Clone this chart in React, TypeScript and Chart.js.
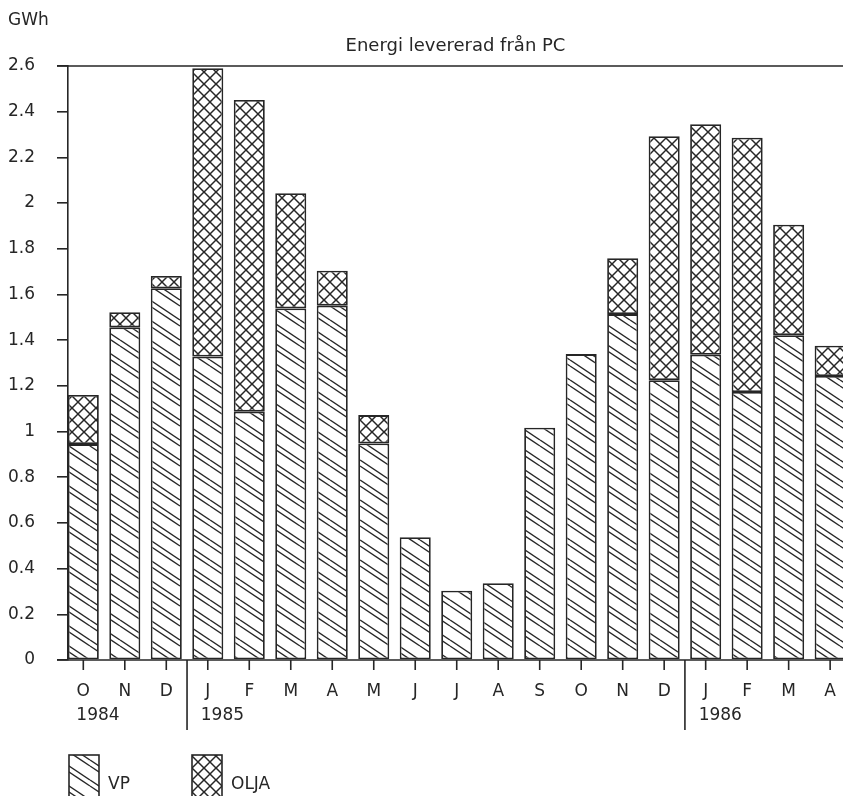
import React, { useEffect, useRef } from 'react';
import { Chart, registerables } from 'chart.js';

Chart.register(...registerables);

// ---- data ----
const months = ['O', 'N', 'D', 'J', 'F', 'M', 'A', 'M', 'J', 'J', 'A', 'S', 'O', 'N', 'D', 'J', 'F', 'M', 'A'];
const yearLabels = ['1984', '1985', '1986'];
const yearStartIndex = [0, 3, 15];
const yearBreaks = [2.5, 14.5];
const vpValues = [0.945, 1.456, 1.627, 1.328, 1.087, 1.539, 1.551, 0.948, 0.537, 0.303, 0.336, 1.017, 1.339, 1.514, 1.225, 1.336, 1.173, 1.422, 1.243];
const oljaValues = [0.215, 0.066, 0.054, 1.262, 1.364, 0.504, 0.153, 0.124, 0, 0, 0, 0, 0, 0.245, 1.068, 1.009, 1.113, 0.483, 0.133];
const seriesNames = ['VP', 'OLJA'];
const yMin = 0;
const yMax = 2.6;
const yStep = 0.2;
const unitLabel = 'GWh';
const titleText = 'Energi levererad från PC';

const INK = '#262626';
const FONT = '"DejaVu Sans", "Noto Sans", sans-serif';

function makeHatch(): CanvasPattern | string {
  const w = 30, h = 20;
  const c = document.createElement('canvas');
  c.width = w; c.height = h;
  const g = c.getContext('2d');
  if (!g) return '#fff';
  g.fillStyle = '#fff';
  g.fillRect(0, 0, w, h);
  g.strokeStyle = INK;
  g.lineWidth = 1.4;
  for (const o of [-h, 0, h]) {
    for (const d of [0, 6]) {
      g.beginPath();
      g.moveTo(0, o + d);
      g.lineTo(w, o + d + h);
      g.stroke();
    }
  }
  const p = g.createPattern(c, 'repeat');
  return p || '#fff';
}

function makeCross(): CanvasPattern | string {
  const s = 12;
  const c = document.createElement('canvas');
  c.width = s; c.height = s;
  const g = c.getContext('2d');
  if (!g) return '#fff';
  g.fillStyle = '#fff';
  g.fillRect(0, 0, s, s);
  g.strokeStyle = INK;
  g.lineWidth = 1.5;
  for (const o of [-s, 0, s]) {
    g.beginPath();
    g.moveTo(0, o);
    g.lineTo(s, o + s);
    g.stroke();
    g.beginPath();
    g.moveTo(0, o + s);
    g.lineTo(s, o);
    g.stroke();
  }
  const p = g.createPattern(c, 'repeat');
  return p || '#fff';
}

export default function App() {
  const ref = useRef<HTMLCanvasElement>(null);

  useEffect(() => {
    document.body.style.margin = '0';
    const canvas = ref.current;
    if (!canvas) return;
    const vpPat = makeHatch();
    const oljaPat = makeCross();

    const decor = {
      id: 'decor',
      afterDraw(chart: any) {
        const ctx = chart.ctx as CanvasRenderingContext2D;
        const xs = chart.scales.x;
        const ys = chart.scales.y;
        const area = chart.chartArea;
        const y0 = ys.getPixelForValue(yMin);
        const yTop = ys.getPixelForValue(yMax);
        ctx.save();
        ctx.strokeStyle = INK;
        ctx.lineWidth = 1.6;
        // top and bottom frame lines
        ctx.beginPath();
        ctx.moveTo(57, yTop);
        ctx.lineTo(chart.width, yTop);
        ctx.moveTo(57, y0);
        ctx.lineTo(chart.width, y0);
        ctx.stroke();
        // x ticks
        ctx.beginPath();
        months.forEach((_, i) => {
          const x = xs.getPixelForValue(i);
          ctx.moveTo(x, y0);
          ctx.lineTo(x, y0 + 10);
        });
        ctx.stroke();
        // year separators
        ctx.beginPath();
        yearBreaks.forEach((b) => {
          const x = xs.getPixelForValue(b);
          ctx.moveTo(x, y0);
          ctx.lineTo(x, y0 + 70);
        });
        ctx.stroke();

        ctx.fillStyle = INK;
        ctx.font = `17px ${FONT}`;
        ctx.textBaseline = 'middle';
        ctx.textAlign = 'center';
        months.forEach((m, i) => {
          ctx.fillText(m, xs.getPixelForValue(i), y0 + 32);
        });
        ctx.textAlign = 'left';
        yearLabels.forEach((yl, k) => {
          ctx.fillText(yl, xs.getPixelForValue(yearStartIndex[k]) - 7, y0 + 56);
        });
        // unit
        ctx.fillText(unitLabel, 8, 21);
        // title
        ctx.textAlign = 'center';
        ctx.font = `18px ${FONT}`;
        ctx.fillText(titleText, (area.left + area.right) / 2, 46);

        // legend
        const boxes = [
          { x: 69, pat: vpPat, name: seriesNames[0] },
          { x: 192, pat: oljaPat, name: seriesNames[1] },
        ];
        ctx.font = `17px ${FONT}`;
        ctx.textAlign = 'left';
        boxes.forEach((b) => {
          ctx.fillStyle = b.pat as any;
          ctx.fillRect(b.x, 755, 30, 50);
          ctx.strokeRect(b.x, 755, 30, 50);
          ctx.fillStyle = INK;
          ctx.fillText(b.name, b.x + 39, 785);
        });
        ctx.restore();
      },
    };

    const chart = new Chart(canvas, {
      type: 'bar',
      data: {
        datasets: [
          {
            label: seriesNames[0],
            data: vpValues.map((y, i) => ({ x: i, y })),
            backgroundColor: vpPat as any,
            borderColor: INK,
            borderWidth: 1.8,
            borderSkipped: false,
            categoryPercentage: 1,
            barPercentage: 0.748,
          },
          {
            label: seriesNames[1],
            data: oljaValues.map((y, i) => ({ x: i, y: y > 0 ? y : null })),
            backgroundColor: oljaPat as any,
            borderColor: INK,
            borderWidth: 1.8,
            borderSkipped: false,
            categoryPercentage: 1,
            barPercentage: 0.748,
          },
        ],
      },
      options: {
        animation: false,
        responsive: false,
        devicePixelRatio: 1,
        layout: { padding: { top: 66, bottom: 136, left: 0, right: 0 } },
        plugins: {
          legend: { display: false },
          tooltip: { enabled: false },
          title: { display: false },
        },
        scales: {
          x: {
            type: 'linear',
            display: false,
            stacked: true,
            offset: false,
            min: -0.369,
            max: 18.31,
          },
          y: {
            type: 'linear',
            stacked: true,
            min: yMin,
            max: yMax,
            afterFit: (scale: any) => {
              scale.width = 68;
            },
            grid: {
              drawOnChartArea: false,
              drawTicks: true,
              tickLength: 11,
              color: INK,
              lineWidth: 1.6,
            },
            border: { display: true, color: INK, width: 1.6 },
            ticks: {
              stepSize: yStep,
              padding: 22,
              color: INK,
              font: { size: 17, family: FONT },
              callback: (v: any) => String(Number(Number(v).toFixed(1))),
            },
          },
        },
      },
      plugins: [decor],
    } as any);

    return () => chart.destroy();
  }, []);

  return (
    <div style={{ position: 'absolute', left: 0, top: 0, width: 843, height: 796, background: '#fff', overflow: 'hidden' }}>
      <canvas ref={ref} width={843} height={796} style={{ display: 'block', width: 843, height: 796 }} />
    </div>
  );
}
